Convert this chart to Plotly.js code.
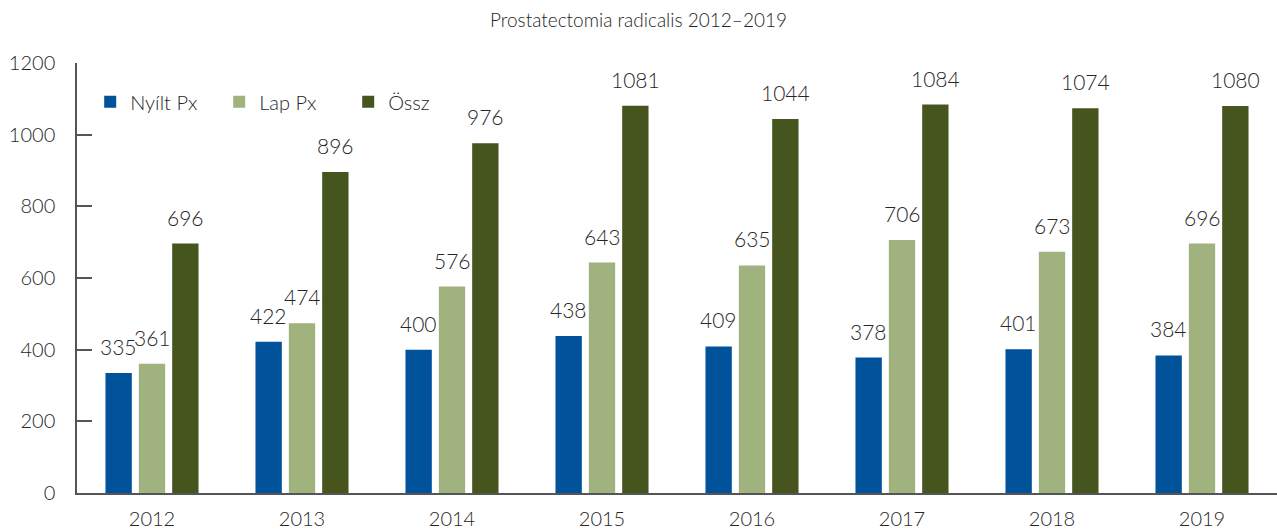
<!DOCTYPE html>
<html>
<head>
<meta charset="utf-8">
<script src="https://cdn.plot.ly/plotly-3.0.1.min.js"></script>
<style>
  html, body { margin: 0; padding: 0; background: #fff; }
  #chart { width: 1277px; height: 529px; }
</style>
</head>
<body>
<div id="chart"></div>
<script>
// Prostatectomia radicalis, 2012-2019
const years = ['2012', '2013', '2014', '2015', '2016', '2017', '2018', '2019'];
const nyiltPx = [335, 422, 400, 438, 409, 378, 401, 384];
const lapPx = [361, 474, 576, 643, 635, 706, 673, 696];
const ossz = [696, 896, 976, 1081, 1044, 1084, 1074, 1080];

const FONT = '"Lato Light", Lato, "Open Sans", sans-serif';
const TXT = '#262626';

function barTrace(name, values, color) {
  return {
    type: 'bar',
    name: name,
    x: years,
    y: values,
    marker: { color: color },
    hoverinfo: 'x+y+name'
  };
}

const data = [
  barTrace('Nyílt Px', nyiltPx, '#00529b'),
  barTrace('Lap Px', lapPx, '#a0b27d'),
  barTrace('Össz', ossz, '#46551e')
];

// value labels above each bar, shifted sideways by one bar slot
// (category axis: annotation x is the category index)
const series = [nyiltPx, lapPx, ossz];
const slotShift = [-33.3, 0, 33.3];
const annotations = [];
series.forEach((vals, s) => {
  vals.forEach((v, i) => {
    annotations.push({
      x: i, y: v, xref: 'x', yref: 'y',
      text: String(v),
      showarrow: false,
      xshift: slotShift[s],
      yanchor: 'bottom',
      yshift: 12,
      font: { family: FONT, size: 21, color: TXT, weight: 300 }
    });
  });
});

const layout = {
  width: 1277,
  height: 529,
  margin: { l: 77, r: 0, t: 63, b: 36 },
  paper_bgcolor: '#ffffff',
  plot_bgcolor: '#ffffff',
  font: { family: FONT, color: TXT, size: 19, weight: 300 },
  title: {
    text: 'Prostatectomia radicalis 2012–2019',
    font: { family: FONT, size: 19, color: TXT, weight: 300 },
    x: 0.5,
    xanchor: 'center',
    y: 0.975,
    yanchor: 'top'
  },
  barmode: 'group',
  bargap: 0.333,
  bargroupgap: 0.21,
  showlegend: true,
  legend: {
    orientation: 'h',
    x: 0.011,
    xanchor: 'left',
    y: 0.955,
    yanchor: 'top',
    font: { family: FONT, size: 20, color: TXT, weight: 300 },
    bgcolor: 'rgba(0,0,0,0)',
    entrywidth: 84,
    entrywidthmode: 'pixels'
  },
  annotations: annotations,
  xaxis: {
    type: 'category',
    range: [-0.5, years.length - 0.5],
    showline: true,
    linecolor: '#555555',
    linewidth: 1.5,
    ticks: '',
    showgrid: false,
    zeroline: false,
    tickfont: { family: FONT, size: 20, color: TXT, weight: 300 },
    ticklabelstandoff: 7
  },
  yaxis: {
    range: [0, 1200],
    tickvals: [0, 200, 400, 600, 800, 1000, 1200],
    showline: true,
    linecolor: '#555555',
    linewidth: 1.5,
    ticks: 'inside',
    ticklen: 15,
    tickwidth: 1.5,
    tickcolor: '#555555',
    showgrid: false,
    zeroline: false,
    tickfont: { family: FONT, size: 20, color: TXT, weight: 300 },
    ticklabelstandoff: 16
  }
};

Plotly.newPlot('chart', data, layout, { displayModeBar: false, responsive: false });
</script>
</body>
</html>
